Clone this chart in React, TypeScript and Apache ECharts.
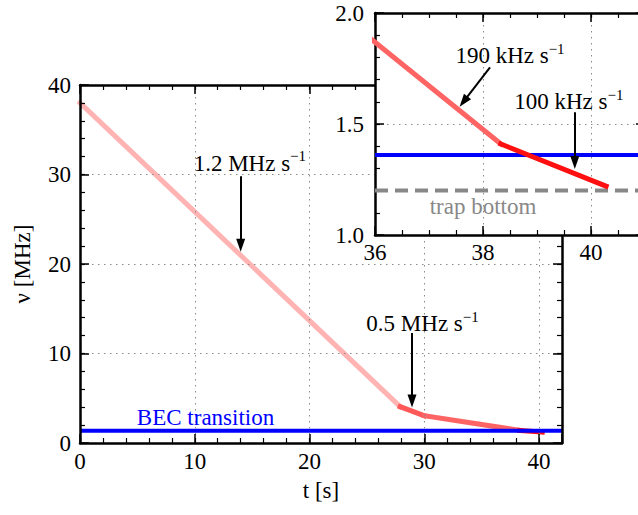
import React, { useEffect, useRef } from 'react';
import * as echarts from 'echarts';

// ---- data ----
const rampTimes = [0, 27.9, 30, 38.33, 40.28];
const rampFreqs = [38, 4.06, 3.05, 1.41, 1.22];
const becFreq = 1.36;
const trapBottomFreq = 1.2;

const mainXRange = [0, 42];
const mainYRange = [0, 40];
const insetXRange = [36, 41];
const insetYRange = [1.0, 2.0];

const rateTexts = ['1.2 MHz s', '0.5 MHz s', '190 kHz s', '100 kHz s'];
const rateTextAt = [
  [14.8, 31.4],
  [29.85, 13.5],
  [38.5, 1.814],
  [39.59, 1.607],
];
const arrowFrom = [
  [14.0, 29.8],
  [28.93, 12.3],
  [38.13, 1.755],
  [39.7, 1.553],
];
const arrowTo = [
  [14.0, 22.1],
  [28.93, 4.7],
  [37.64, 1.601],
  [39.7, 1.327],
];
const becText = 'BEC transition';
const becTextAt = [10.94, 2.8];
const trapText = 'trap bottom';
const trapTextAt = [38.0, 1.129];

// ---- styles ----
const FONT = 'Liberation Serif';
const FS = 23;
const segColors = ['#ffb3b3', '#ff5858', '#ff6464', '#ff1010'];

function axes(
  dim: 'x' | 'y',
  gridIndex: number,
  position: string,
  range: number[],
  major: number,
  minor: number,
  z: number,
  withLabels: boolean,
  fmt: (v: number) => string,
  margin: number,
  name?: string,
  nameGap?: number
) {
  const majorAxis: any = {
    type: 'value',
    gridIndex,
    position,
    min: range[0],
    max: range[1],
    interval: major,
    z,
    axisLine: { show: true, onZero: false, lineStyle: { color: '#000', width: 2.5 } },
    axisTick: { show: true, inside: true, length: 9, lineStyle: { color: '#000', width: 1.5 } },
    minorTick: { show: false },
    axisLabel: withLabels
      ? { show: true, margin, color: '#000', fontFamily: FONT, fontSize: FS, formatter: fmt }
      : { show: false },
    splitLine: withLabels
      ? { show: true, lineStyle: { color: '#8a8a8a', width: 1, type: [1.5, 4.5] } }
      : { show: false },
  };
  if (name) {
    majorAxis.name = name;
    majorAxis.nameLocation = 'middle';
    majorAxis.nameGap = nameGap;
    majorAxis.nameTextStyle = { color: '#000', fontFamily: FONT, fontSize: FS };
  }
  const minorAxis: any = {
    type: 'value',
    gridIndex,
    position,
    min: range[0],
    max: range[1],
    interval: minor,
    z,
    axisLine: { show: false, onZero: false },
    axisTick: { show: true, inside: true, length: 5, lineStyle: { color: '#000', width: 1.2 } },
    axisLabel: { show: false },
    splitLine: { show: false },
  };
  return [majorAxis, minorAxis];
}

const rich = {
  m: { fontFamily: FONT, fontSize: FS, color: '#000', lineHeight: 26, verticalAlign: 'bottom' },
  s: { fontFamily: FONT, fontSize: 15, color: '#000', lineHeight: 15, verticalAlign: 'top' },
};

function annotations(idx: number[], z: number) {
  return {
    markLine: {
      z,
      silent: true,
      animation: false,
      emphasis: { disabled: true },
      lineStyle: { color: '#000', width: 2, type: 'solid' },
      label: { show: false },
      data: idx.map((i) => [
        { coord: arrowFrom[i], symbol: 'none' },
        { coord: arrowTo[i], symbol: 'triangle', symbolSize: [9, 13] },
      ]),
    },
    markPoint: {
      z,
      silent: true,
      animation: false,
      symbol: 'circle',
      symbolSize: 0,
      itemStyle: { color: 'transparent' },
      label: { show: true, position: 'inside', rich },
      data: idx.map((i) => ({
        coord: rateTextAt[i],
        label: { formatter: `{m|${rateTexts[i]}}{s|\u22121}` },
      })),
    },
  };
}

function textPoint(at: number[], text: string, color: string, z: number) {
  return {
    markPoint: {
      z,
      silent: true,
      animation: false,
      symbol: 'circle',
      symbolSize: 0,
      itemStyle: { color: 'transparent' },
      label: { show: true, position: 'inside', color, fontFamily: FONT, fontSize: FS, formatter: text },
      data: [{ coord: at }],
    },
  };
}

function buildOption() {
  const intFmt = (step: number) => (v: number) => (Math.abs(v / step - Math.round(v / step)) < 1e-6 ? String(v) : '');
  const xAxis = [
    ...axes('x', 0, 'bottom', mainXRange, 10, 2, 3, true, intFmt(10), 7, 't [s]', 36),
    ...axes('x', 0, 'top', mainXRange, 10, 2, 3, false, intFmt(10), 7),
    ...axes('x', 1, 'bottom', insetXRange, 2, 0.5, 11, true, intFmt(2), 6),
    ...axes('x', 1, 'top', insetXRange, 2, 0.5, 11, false, intFmt(2), 6),
  ];
  const yAxis = [
    ...axes('y', 0, 'left', mainYRange, 10, 2, 3, true, intFmt(10), 9, '\u03bd [MHz]', 46),
    ...axes('y', 0, 'right', mainYRange, 10, 2, 3, false, intFmt(10), 9),
    ...axes('y', 1, 'left', insetYRange, 0.5, 0.1, 11, true, (v: number) => v.toFixed(1), 11),
    ...axes('y', 1, 'right', insetYRange, 0.5, 0.1, 11, false, (v: number) => v.toFixed(1), 11),
  ];

  const series: any[] = [];
  // main panel
  for (let i = 0; i < rampTimes.length - 1; i++) {
    series.push({
      type: 'line',
      xAxisIndex: 0,
      yAxisIndex: 0,
      z: 2,
      silent: true,
      symbol: 'none',
      clip: true,
      lineStyle: { color: segColors[i], width: 5, cap: 'square' },
      data: [
        [rampTimes[i], rampFreqs[i]],
        [rampTimes[i + 1], rampFreqs[i + 1]],
      ],
      ...(i === 0 ? annotations([0, 1], 5) : {}),
    });
  }
  series.push({
    type: 'line',
    xAxisIndex: 0,
    yAxisIndex: 0,
    z: 2,
    silent: true,
    symbol: 'none',
    lineStyle: { color: '#0000ff', width: 4 },
    data: [
      [mainXRange[0], becFreq],
      [mainXRange[1], becFreq],
    ],
    ...textPoint(becTextAt, becText, '#0000ff', 5),
  });

  // inset panel
  series.push({
    type: 'line',
    xAxisIndex: 4,
    yAxisIndex: 4,
    z: 12,
    silent: true,
    symbol: 'none',
    lineStyle: { color: '#888888', width: 4, type: [13, 7] },
    data: [
      [insetXRange[0], trapBottomFreq],
      [insetXRange[1], trapBottomFreq],
    ],
    ...textPoint(trapTextAt, trapText, '#888888', 14),
  });
  series.push({
    type: 'line',
    xAxisIndex: 4,
    yAxisIndex: 4,
    z: 12,
    silent: true,
    symbol: 'none',
    lineStyle: { color: '#0000ff', width: 4 },
    data: [
      [insetXRange[0], becFreq],
      [insetXRange[1], becFreq],
    ],
  });
  for (let i = 2; i < rampTimes.length - 1; i++) {
    series.push({
      type: 'line',
      xAxisIndex: 4,
      yAxisIndex: 4,
      z: 13,
      silent: true,
      symbol: 'none',
      clip: true,
      lineStyle: { color: segColors[i], width: 5, cap: 'square' },
      data: [
        [rampTimes[i], rampFreqs[i]],
        [rampTimes[i + 1], rampFreqs[i + 1]],
      ],
      ...(i === 2 ? annotations([2, 3], 14) : {}),
    });
  }

  return {
    animation: false,
    backgroundColor: '#ffffff',
    grid: [
      { left: 80, top: 85, width: 482, height: 358, show: false },
      { left: 375, top: 13, width: 270, height: 222, show: true, backgroundColor: '#ffffff', borderWidth: 0, z: 10 },
    ],
    xAxis,
    yAxis,
    series,
  };
}

export default function App() {
  const ref = useRef<HTMLDivElement>(null);
  useEffect(() => {
    if (!ref.current) return;
    const chart = echarts.init(ref.current, null, { renderer: 'svg' });
    chart.setOption(buildOption() as any);
    return () => chart.dispose();
  }, []);
  return (
    <div style={{ position: 'fixed', left: 0, top: 0, width: 638, height: 515, overflow: 'hidden', background: '#fff' }}>
      <div ref={ref} style={{ position: 'absolute', left: 0, top: 0, width: 670, height: 515 }} />
    </div>
  );
}
